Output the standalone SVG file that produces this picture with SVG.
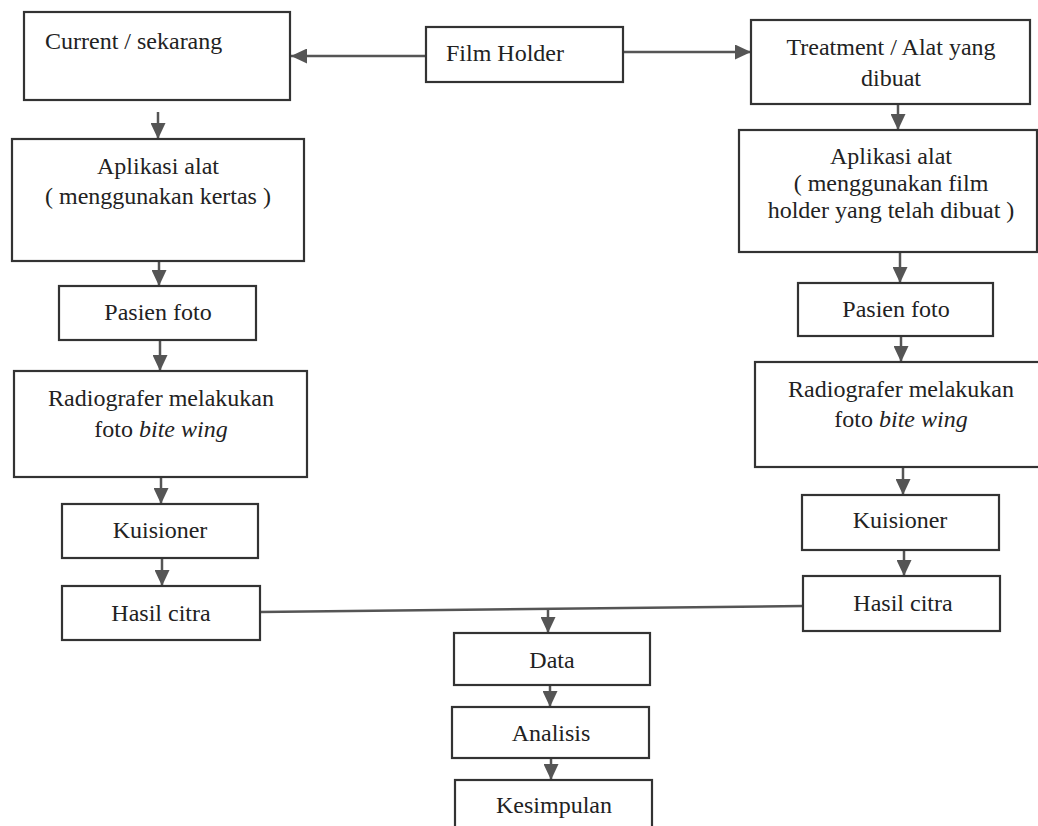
<svg xmlns="http://www.w3.org/2000/svg" width="1038" height="826" viewBox="0 0 1038 826">
<style>
.box{fill:#fff;stroke:#333;stroke-width:2.2}
.t{font-family:'Liberation Serif',serif;font-size:24px;fill:#222;text-anchor:middle}
.c{fill:none;stroke:#555;stroke-width:2.5}
</style>
<defs>
<marker id="ah" markerUnits="userSpaceOnUse" viewBox="0 0 16 15" markerWidth="16" markerHeight="15" refX="16" refY="7.5" orient="auto">
<path d="M0,0 L16,7.5 L0,15 z" fill="#555"/>
</marker>
</defs>
<rect width="1038" height="826" fill="#fff"/>
<g id="connectors">
<line class="c" x1="426" y1="56" x2="291" y2="56" marker-end="url(#ah)"/>
<line class="c" x1="623" y1="52" x2="751" y2="52" marker-end="url(#ah)"/>
<line class="c" x1="158" y1="112" x2="158" y2="139" marker-end="url(#ah)"/>
<line class="c" x1="159" y1="261" x2="159" y2="286" marker-end="url(#ah)"/>
<line class="c" x1="160" y1="340" x2="160" y2="371" marker-end="url(#ah)"/>
<line class="c" x1="161" y1="477" x2="161" y2="504" marker-end="url(#ah)"/>
<line class="c" x1="162" y1="558" x2="162" y2="586" marker-end="url(#ah)"/>
<line class="c" x1="898" y1="104" x2="898" y2="130" marker-end="url(#ah)"/>
<line class="c" x1="900" y1="252" x2="900" y2="283" marker-end="url(#ah)"/>
<line class="c" x1="901" y1="336" x2="901" y2="362" marker-end="url(#ah)"/>
<line class="c" x1="903" y1="467" x2="903" y2="495" marker-end="url(#ah)"/>
<line class="c" x1="904" y1="550" x2="904" y2="576" marker-end="url(#ah)"/>
<line class="c" x1="260" y1="612" x2="803" y2="606"/>
<line class="c" x1="548" y1="609" x2="548" y2="633" marker-end="url(#ah)"/>
<line class="c" x1="550" y1="685" x2="550" y2="707" marker-end="url(#ah)"/>
<line class="c" x1="551" y1="758" x2="551" y2="780" marker-end="url(#ah)"/>
</g>
<g id="current">
<rect class="box" x="24" y="12" width="266" height="88"/>
<text class="t" x="45" y="49" style="text-anchor:start">Current / sekarang</text>
</g>
<g id="filmholder">
<rect class="box" x="426" y="27" width="197" height="55"/>
<text class="t" x="505" y="61">Film Holder</text>
</g>
<g id="treatment">
<rect class="box" x="751" y="20" width="279" height="84"/>
<text class="t" x="891" y="55">Treatment / Alat yang</text>
<text class="t" x="891" y="86">dibuat</text>
</g>
<g id="aplikasi-left">
<rect class="box" x="12" y="139" width="292" height="122"/>
<text class="t" x="158" y="174">Aplikasi alat</text>
<text class="t" x="158" y="204">( menggunakan kertas )</text>
</g>
<g id="aplikasi-right">
<rect class="box" x="739" y="130" width="298" height="122"/>
<text class="t" x="891" y="164">Aplikasi alat</text>
<text class="t" x="891" y="191">( menggunakan film</text>
<text class="t" x="891" y="218">holder yang telah dibuat )</text>
</g>
<g id="pasien-left">
<rect class="box" x="59" y="286" width="197" height="54"/>
<text class="t" x="158" y="320">Pasien foto</text>
</g>
<g id="pasien-right">
<rect class="box" x="798" y="283" width="195" height="53"/>
<text class="t" x="896" y="317">Pasien foto</text>
</g>
<g id="radiografer-left">
<rect class="box" x="14" y="371" width="293" height="106"/>
<text class="t" x="161" y="406">Radiografer melakukan</text>
<text class="t" x="161" y="437">foto <tspan font-style="italic">bite wing</tspan></text>
</g>
<g id="radiografer-right">
<rect class="box" x="755" y="362" width="292" height="105"/>
<text class="t" x="901" y="397">Radiografer melakukan</text>
<text class="t" x="901" y="427">foto <tspan font-style="italic">bite wing</tspan></text>
</g>
<g id="kuisioner-left">
<rect class="box" x="62" y="504" width="196" height="54"/>
<text class="t" x="160" y="538">Kuisioner</text>
</g>
<g id="kuisioner-right">
<rect class="box" x="802" y="495" width="197" height="55"/>
<text class="t" x="900" y="528">Kuisioner</text>
</g>
<g id="hasil-left">
<rect class="box" x="62" y="586" width="198" height="54"/>
<text class="t" x="161" y="621">Hasil citra</text>
</g>
<g id="hasil-right">
<rect class="box" x="803" y="576" width="197" height="55"/>
<text class="t" x="903" y="611">Hasil citra</text>
</g>
<g id="data">
<rect class="box" x="454" y="633" width="196" height="52"/>
<text class="t" x="552" y="668">Data</text>
</g>
<g id="analisis">
<rect class="box" x="452" y="707" width="197" height="51"/>
<text class="t" x="551" y="741">Analisis</text>
</g>
<g id="kesimpulan">
<rect class="box" x="455" y="780" width="197" height="60"/>
<text class="t" x="554" y="813">Kesimpulan</text>
</g>
</svg>
